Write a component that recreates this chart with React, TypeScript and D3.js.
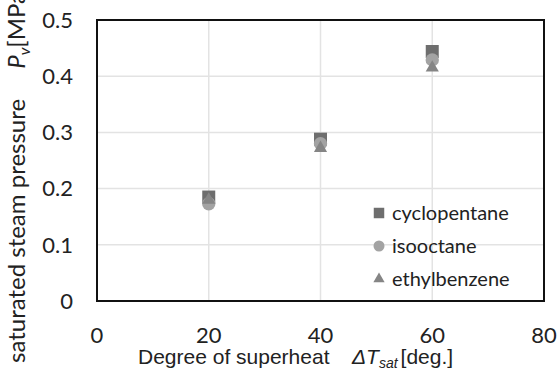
import React, { useEffect, useRef } from 'react';
import * as d3 from 'd3';

const superheat = [20, 40, 60];
const cyclopentane = [0.185, 0.288, 0.444];
const isooctane = [0.173, 0.28, 0.429];
const ethylbenzene = [0.18, 0.272, 0.415];
const xTicks = [0, 20, 40, 60, 80];
const yTicks = [0, 0.1, 0.2, 0.3, 0.4, 0.5];

const width = 557;
const height = 374;

const App: React.FC = () => {
  const ref = useRef<SVGSVGElement>(null);

  useEffect(() => {
    const marginLeft = 97;
    const marginRight = 13;
    const marginTop = 20;
    const marginBottom = 73;

    const svg = d3.select(ref.current);
    svg.selectAll('*').remove();

    const x = d3.scaleLinear().domain([0, 80]).range([marginLeft, width - marginRight]);
    const y = d3.scaleLinear().domain([0, 0.5]).range([height - marginBottom, marginTop]);

    // gridlines
    svg
      .append('g')
      .selectAll('line')
      .data(yTicks.slice(1, -1))
      .join('line')
      .attr('x1', x(0))
      .attr('x2', x(80))
      .attr('y1', (d) => y(d))
      .attr('y2', (d) => y(d))
      .attr('stroke', '#e3e3e3')
      .attr('stroke-width', 1.5);

    svg
      .append('g')
      .selectAll('line')
      .data(xTicks.slice(1, -1))
      .join('line')
      .attr('x1', (d) => x(d))
      .attr('x2', (d) => x(d))
      .attr('y1', y(0))
      .attr('y2', y(0.5))
      .attr('stroke', '#e3e3e3')
      .attr('stroke-width', 1.5);

    // frame
    svg
      .append('rect')
      .attr('x', x(0))
      .attr('y', y(0.5))
      .attr('width', x(80) - x(0))
      .attr('height', y(0) - y(0.5))
      .attr('fill', 'none')
      .attr('stroke', '#111')
      .attr('stroke-width', 2);

    const tickFont = 'Lato, "Open Sans", sans-serif';

    svg
      .append('g')
      .selectAll('text')
      .data(yTicks)
      .join('text')
      .attr('x', 73)
      .attr('y', (d) => y(d))
      .attr('dy', '0.35em')
      .attr('text-anchor', 'end')
      .attr('font-family', tickFont)
      .attr('font-size', 22)
      .attr('fill', '#222')
      .text((d) => (d === 0 ? '0' : d3.format('.1f')(d)));

    svg
      .append('g')
      .selectAll('text')
      .data(xTicks)
      .join('text')
      .attr('x', (d) => x(d))
      .attr('y', 335)
      .attr('dy', '0.35em')
      .attr('text-anchor', 'middle')
      .attr('font-family', tickFont)
      .attr('font-size', 22)
      .attr('fill', '#222')
      .text((d) => d);

    // x axis title
    const xt = svg
      .append('text')
      .attr('x', 138)
      .attr('y', 364)
      .attr('font-family', '"Liberation Sans", Arial, sans-serif')
      .attr('font-size', 21)
      .attr('fill', '#222');
    xt.append('tspan').text('Degree of superheat');
    xt.append('tspan').attr('x', 352).attr('font-style', 'italic').text('ΔT');
    xt.append('tspan').attr('font-style', 'italic').attr('font-size', 14).attr('dy', 4).text('sat');
    xt.append('tspan').attr('dy', -4).attr('dx', 3).text('[deg.]');

    // y axis title (runs off the top edge, as in the original)
    const yt = svg
      .append('text')
      .attr('transform', `translate(25,363) rotate(-90)`)
      .attr('font-family', tickFont)
      .attr('font-size', 24)
      .attr('fill', '#222');
    yt.append('tspan').text('saturated steam pressure');
    yt.append('tspan').attr('dx', 30).attr('font-style', 'italic').text('P');
    yt.append('tspan').attr('font-style', 'italic').attr('font-size', 16).attr('dy', 5).text('v');
    yt.append('tspan').attr('dy', -5).text('[MPa]');

    const sym = (type: d3.SymbolType, area: number) => d3.symbol().type(type).size(area)()!;

    const series = [
      { name: 'cyclopentane', values: cyclopentane, type: d3.symbolSquare, color: '#6e6e6e', size: 169, legendSize: 110 },
      { name: 'isooctane', values: isooctane, type: d3.symbolCircle, color: '#a3a3a3', size: 140, legendSize: 95 },
      { name: 'ethylbenzene', values: ethylbenzene, type: d3.symbolTriangle, color: '#858585', size: 75, legendSize: 55 },
    ];

    series.forEach((s) => {
      svg
        .append('g')
        .selectAll('path')
        .data(superheat)
        .join('path')
        .attr('d', sym(s.type, s.size))
        .attr('transform', (d, i) => `translate(${x(d)},${y(s.values[i])})`)
        .attr('fill', s.color);
    });

    // legend
    const legend = svg.append('g').attr('transform', 'translate(379,213)');
    series.forEach((s, i) => {
      const g = legend.append('g').attr('transform', `translate(0,${i * 33})`);
      g.append('path').attr('d', sym(s.type, s.legendSize)).attr('fill', s.color);
      g.append('text')
        .attr('x', 13)
        .attr('dy', '0.35em')
        .attr('font-family', tickFont)
        .attr('font-size', 20)
        .attr('fill', '#222')
        .text(s.name);
    });
  }, []);

  return (
    <svg
      ref={ref}
      width={width}
      height={height}
      style={{ position: 'absolute', left: 0, top: 0, background: '#fff' }}
    ></svg>
  );
};

export default App;
